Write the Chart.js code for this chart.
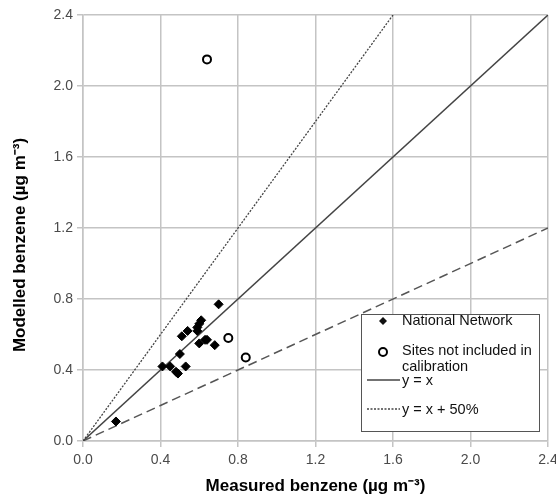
<!DOCTYPE html>
<html>
<head>
<meta charset="utf-8">
<script src="https://cdn.jsdelivr.net/npm/chart.js@4"></script>
<style>
  html, body { margin: 0; padding: 0; background: #fff; }
  #wrap { width: 556px; height: 498px; }
</style>
</head>
<body>
<div id="wrap"><canvas id="chart" width="556" height="498"></canvas></div>
<script>
// National Network sites (measured, modelled)
const networkX = [0.17, 0.41, 0.45, 0.48, 0.49, 0.53, 0.50, 0.51, 0.54, 0.59, 0.60, 0.61, 0.59, 0.60, 0.63, 0.64, 0.68, 0.70];
const networkY = [0.11, 0.42, 0.42, 0.39, 0.38, 0.42, 0.49, 0.59, 0.62, 0.62, 0.66, 0.68, 0.64, 0.55, 0.57, 0.57, 0.54, 0.77];

// sites not included in calibration
const excludedX = [0.64, 0.75, 0.84];
const excludedY = [2.15, 0.58, 0.47];

// reference lines
const oneToOneX = [0, 2.4];
const oneToOneY = [0, 2.4];
const plus50X = [0, 1.6];
const plus50Y = [0, 2.4];
const minus50X = [0, 2.4];
const minus50Y = [0, 1.2];

const axisMin = 0;
const axisMax = 2.4;
const tickStep = 0.4;

const xTitle = 'Measured benzene (µg m⁻³)';
const yTitle = 'Modelled benzene (µg m⁻³)';

const toPoints = (xs, ys) => xs.map((x, i) => ({ x: x, y: ys[i] }));

const FONT = '"Liberation Sans", Arial, sans-serif';
const gridColor = '#c4c4c4';
const tickColor = '#4a4a4a';

// legend drawn as a framed box inside the plot, like the original
const boxLegend = {
    id: 'boxLegend',
    afterDatasetsDraw(chart) {
        const ctx = chart.ctx;
        const left = 361, top = 314, w = 178, h = 117;
        ctx.save();
        ctx.fillStyle = '#fff';
        ctx.fillRect(left, top, w, h);
        ctx.strokeStyle = '#555';
        ctx.lineWidth = 1;
        ctx.strokeRect(left + 0.5, top + 0.5, w, h);

        ctx.font = '14.5px ' + FONT;
        ctx.fillStyle = '#111';
        ctx.textBaseline = 'middle';
        ctx.textAlign = 'left';
        const tx = 402;

        // diamond
        ctx.beginPath();
        ctx.moveTo(383, 317); ctx.lineTo(387, 321); ctx.lineTo(383, 325); ctx.lineTo(379, 321);
        ctx.closePath();
        ctx.fill();
        ctx.fillText(chart.data.datasets[0].label, tx, 321);

        // open circle
        ctx.beginPath();
        ctx.arc(383, 352, 4, 0, Math.PI * 2);
        ctx.lineWidth = 2;
        ctx.strokeStyle = '#000';
        ctx.stroke();
        ctx.fillText('Sites not included in', tx, 351);
        ctx.fillText('calibration', tx, 367);

        // solid line
        ctx.beginPath();
        ctx.lineWidth = 1.5;
        ctx.strokeStyle = '#444';
        ctx.moveTo(367, 380); ctx.lineTo(400, 380);
        ctx.stroke();
        ctx.fillText(chart.data.datasets[2].label, tx, 381);

        // dotted line
        ctx.beginPath();
        ctx.lineWidth = 1.3;
        ctx.setLineDash([2, 1.5]);
        ctx.moveTo(367, 409); ctx.lineTo(400, 409);
        ctx.stroke();
        ctx.setLineDash([]);
        ctx.fillText(chart.data.datasets[3].label, tx, 410);
        ctx.restore();
    }
};

// y title sits a little below the middle of the axis in the original
const yTitlePlugin = {
    id: 'yTitle',
    afterDraw(chart) {
        const ctx = chart.ctx;
        ctx.save();
        ctx.translate(20, 245);
        ctx.rotate(-Math.PI / 2);
        ctx.font = 'bold 17px ' + FONT;
        ctx.fillStyle = '#000';
        ctx.textAlign = 'center';
        ctx.textBaseline = 'middle';
        ctx.fillText(yTitle, 0, 0);
        ctx.restore();
    }
};

const bgPlugin = {
    id: 'bg',
    beforeDraw(chart) {
        const ctx = chart.ctx;
        ctx.save();
        ctx.fillStyle = '#fff';
        ctx.fillRect(0, 0, chart.width, chart.height);
        ctx.restore();
    }
};

new Chart(document.getElementById('chart'), {
    type: 'scatter',
    data: {
        datasets: [
            {
                label: 'National Network',
                data: toPoints(networkX, networkY),
                pointStyle: 'rectRot',
                pointRadius: 4.5,
                backgroundColor: '#000',
                borderColor: '#000',
                borderWidth: 1,
                order: 0
            },
            {
                label: 'Sites not included in calibration',
                data: toPoints(excludedX, excludedY),
                pointStyle: 'circle',
                pointRadius: 4,
                backgroundColor: '#fff',
                borderColor: '#000',
                borderWidth: 2,
                order: 0
            },
            {
                label: 'y = x',
                data: toPoints(oneToOneX, oneToOneY),
                showLine: true,
                pointRadius: 0,
                borderColor: '#444',
                borderWidth: 1.5,
                order: 1
            },
            {
                label: 'y = x + 50%',
                data: toPoints(plus50X, plus50Y),
                showLine: true,
                pointRadius: 0,
                borderColor: '#444',
                borderWidth: 1.3,
                borderDash: [2, 1.5],
                order: 1
            },
            {
                label: 'y = x - 50%',
                data: toPoints(minus50X, minus50Y),
                showLine: true,
                pointRadius: 0,
                borderColor: '#555',
                borderWidth: 1.5,
                borderDash: [9, 5],
                order: 1
            }
        ]
    },
    options: {
        responsive: false,
        animation: false,
        layout: { padding: { top: 15, right: 8, left: 0, bottom: 0 } },
        plugins: {
            legend: { display: false },
            tooltip: { enabled: false }
        },
        scales: {
            x: {
                type: 'linear',
                min: axisMin,
                max: axisMax,
                ticks: {
                    stepSize: tickStep,
                    color: tickColor,
                    font: { family: FONT, size: 14 },
                    padding: 5,
                    maxRotation: 0,
                    callback: v => v.toFixed(1)
                },
                grid: { color: gridColor, lineWidth: 1.5, tickLength: 6 },
                border: { color: gridColor, width: 1.5 },
                title: {
                    display: true,
                    text: xTitle,
                    color: '#000',
                    font: { family: FONT, size: 17, weight: 'bold' },
                    padding: { top: 4, bottom: 1 }
                },
                afterFit(scale) {
                    scale.height = 57;
                    scale.paddingRight = 0;
                    scale.paddingLeft = 0;
                }
            },
            y: {
                type: 'linear',
                min: axisMin,
                max: axisMax,
                ticks: {
                    stepSize: tickStep,
                    color: tickColor,
                    font: { family: FONT, size: 14 },
                    padding: 4,
                    callback: v => v.toFixed(1)
                },
                grid: { color: gridColor, lineWidth: 1.5, tickLength: 6 },
                border: { color: gridColor, width: 1.5 },
                title: { display: false },
                afterFit(scale) {
                    scale.width = 83;
                    scale.paddingTop = 0;
                    scale.paddingBottom = 0;
                }
            }
        }
    },
    plugins: [bgPlugin, boxLegend, yTitlePlugin]
});
</script>
</body>
</html>
